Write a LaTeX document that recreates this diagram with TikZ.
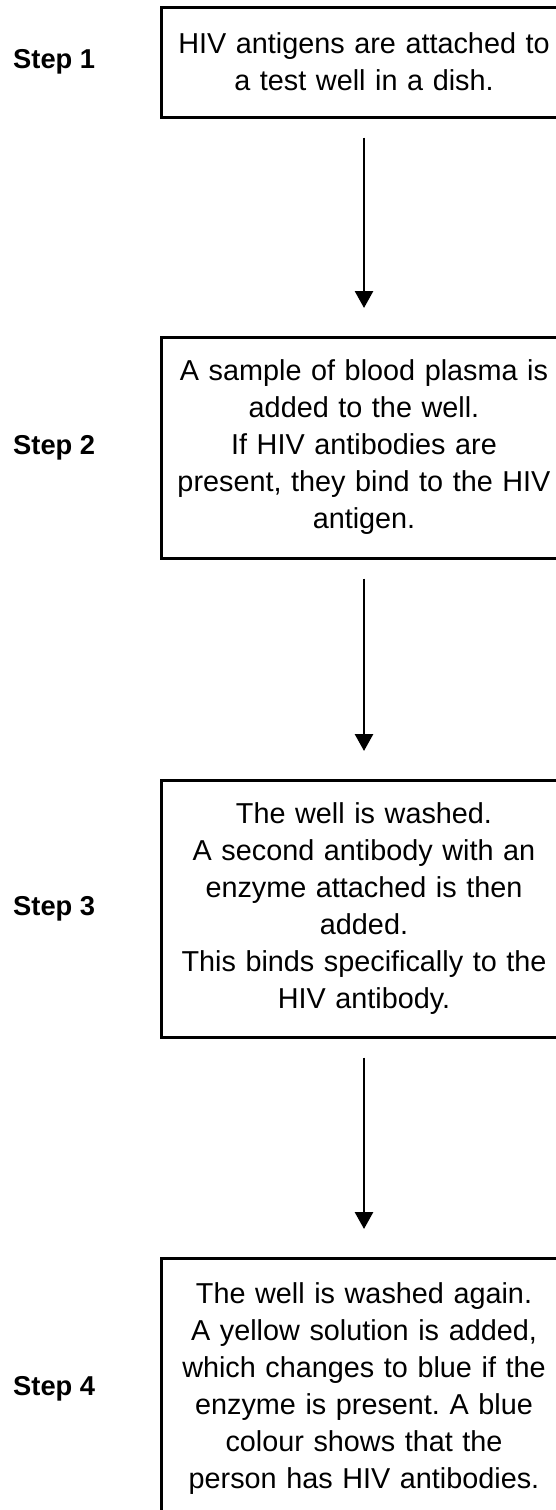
\documentclass[tikz,border=0pt]{standalone}
\usepackage{fontspec}
\setmainfont{Liberation Sans}
\frenchspacing
\usetikzlibrary{arrows.meta}
\tikzset{
  stepbox/.style={draw=black, line width=3pt, inner sep=0pt, text width=406pt,
    align=center, font=\fontsize{28.8}{37}\selectfont},
  steplabel/.style={anchor=west, inner sep=0pt, font=\fontsize{27.3}{33}\selectfont\bfseries},
  flow/.style={line width=2.8pt, -{Triangle[width=18pt,length=17pt]},
    shorten <=19pt, shorten >=27.5pt}
}
\begin{document}
\begin{tikzpicture}[x=1pt,y=-1pt]
\useasboundingbox (0,0) rectangle (556,1510);
\clip (0,0) rectangle (556,1510);
\node[stepbox, minimum height=110pt] (b1) at (364,62)
  {HIV antigens are attached to\\a test well in a dish.};
\node[stepbox, minimum height=221pt] (b2) at (364,447.5)
  {A sample of blood plasma is\\added to the well.\\If HIV antibodies are\\present, they bind to the HIV\\antigen.};
\node[stepbox, minimum height=257pt] (b3) at (364,908.5)
  {The well is washed.\\A second antibody with an\\enzyme attached is then\\added.\\This binds specifically to the\\HIV antibody.};
\node[stepbox, minimum height=262pt] (b4) at (364,1389)
  {The well is washed again.\\A yellow solution is added,\\which changes to blue if the\\enzyme is present. A blue\\colour shows that the\\person has HIV antibodies.};
\node[steplabel] (s1) at (13,62) {Step 1};
\node[steplabel] (s2) at (13,447.5) {Step 2};
\node[steplabel] (s3) at (13,908.5) {Step 3};
\node[steplabel] (s4) at (13,1389) {Step 4};
\draw[flow] (b1.south) -- (b2.north);
\draw[flow] (b2.south) -- (b3.north);
\draw[flow] (b3.south) -- (b4.north);
\end{tikzpicture}
\end{document}
